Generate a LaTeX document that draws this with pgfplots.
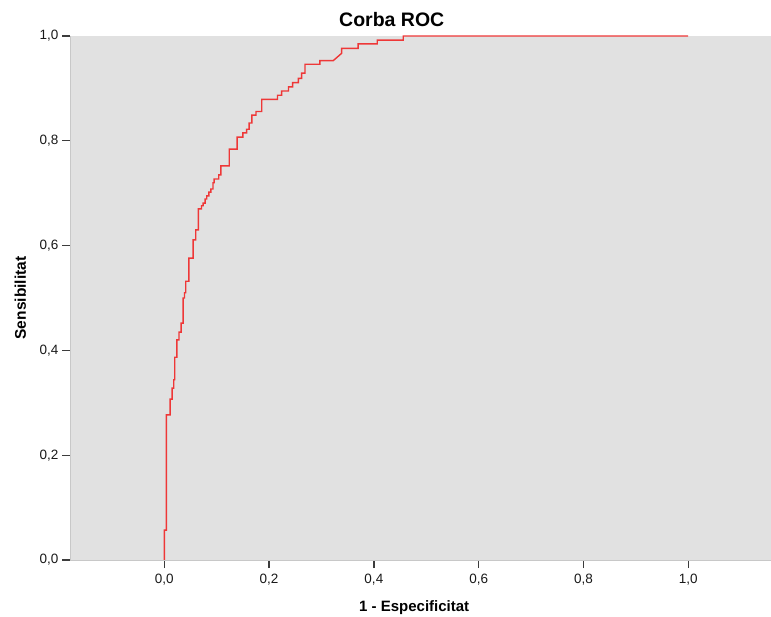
\documentclass[border=0pt]{standalone}
\usepackage{fontspec}
\setmainfont{Liberation Sans}
\usepackage{pgfplots}
\pgfplotsset{compat=1.18}
\definecolor{plotbg}{RGB}{225,225,225}
\definecolor{roc}{RGB}{238,55,55}
\definecolor{axline}{RGB}{200,200,200}
\definecolor{tickc}{RGB}{60,60,60}

\begin{document}
\begin{tikzpicture}
\useasboundingbox (0,0) rectangle (771bp,617bp);
\begin{axis}[
  at={(70bp,57bp)}, anchor=south west,
  width=701bp, height=524bp, scale only axis,
  xmin=-0.18, xmax=1.158, ymin=0, ymax=1,
  axis lines*=left,
  axis line style={draw=axline, line width=1bp},
  axis background/.style={fill=plotbg},
  xtick={0,0.2,0.4,0.6,0.8,1.0},
  ytick={0,0.2,0.4,0.6,0.8,1.0},
  tick align=outside, major tick length=8bp,
  every tick/.style={draw=tickc, line width=1.3bp},
  tick label style={font=\fontsize{13.5bp}{16bp}\selectfont, text=black!90},
  xticklabel style={yshift=-3bp},
  /pgf/number format/fixed,
  /pgf/number format/fixed zerofill,
  /pgf/number format/precision=1,
  /pgf/number format/use comma,
  /pgf/number format/assume math mode=true,
  title={Corba ROC},
  title style={at={(rel axis cs:0.459,1.0076)}, anchor=base,
    font=\bfseries\fontsize{19.5bp}{22bp}\selectfont},
  xlabel={1 - Especificitat},
  xlabel style={at={(rel axis cs:0.491,-0.0992)}, anchor=base,
    font=\bfseries\fontsize{15bp}{18bp}\selectfont},
  ylabel={Sensibilitat},
  ylabel style={at={(rel axis cs:-0.0628,0.5)}, anchor=base,
    font=\bfseries\fontsize{15.5bp}{18bp}\selectfont},
]
% corba ROC (llegida de la imatge)
\addplot[roc, line width=1.4bp, mark=none] coordinates {
(0,0) (0,0.057) (0.004,0.057) (0.004,0.277) (0.011,0.277) (0.011,0.307)
(0.015,0.307) (0.015,0.328) (0.018,0.328) (0.018,0.344) (0.020,0.344)
(0.020,0.387) (0.024,0.387) (0.024,0.420) (0.028,0.420) (0.028,0.435)
(0.032,0.435) (0.032,0.452) (0.036,0.452) (0.036,0.500) (0.0385,0.500)
(0.0385,0.510) (0.041,0.510) (0.041,0.532) (0.047,0.532) (0.047,0.576)
(0.055,0.576) (0.055,0.611) (0.060,0.611) (0.060,0.630) (0.065,0.630)
(0.065,0.670) (0.071,0.670) (0.071,0.676) (0.074,0.676) (0.074,0.681)
(0.078,0.681) (0.078,0.689) (0.081,0.689) (0.081,0.695) (0.085,0.695)
(0.085,0.702) (0.089,0.702) (0.089,0.708) (0.093,0.708) (0.093,0.720)
(0.095,0.720) (0.095,0.727) (0.104,0.727) (0.104,0.735) (0.108,0.735)
(0.108,0.752) (0.124,0.752) (0.124,0.784) (0.139,0.784) (0.139,0.807)
(0.150,0.807) (0.150,0.815) (0.157,0.815) (0.157,0.822) (0.162,0.822)
(0.162,0.834) (0.167,0.834) (0.167,0.849) (0.175,0.849) (0.175,0.856)
(0.186,0.856) (0.186,0.879) (0.216,0.879) (0.216,0.887) (0.224,0.887)
(0.224,0.895) (0.237,0.895) (0.237,0.903) (0.245,0.903) (0.245,0.911)
(0.256,0.911) (0.256,0.919) (0.262,0.919) (0.262,0.929) (0.2685,0.929)
(0.2685,0.946) (0.297,0.946) (0.297,0.953) (0.3225,0.953) (0.3385,0.967)
(0.3385,0.9765) (0.370,0.9765) (0.370,0.985) (0.4065,0.985) (0.4065,0.992)
(0.456,0.992) (0.456,1.0) (1.0,1.0)
};
\end{axis}
\end{tikzpicture}
\end{document}
